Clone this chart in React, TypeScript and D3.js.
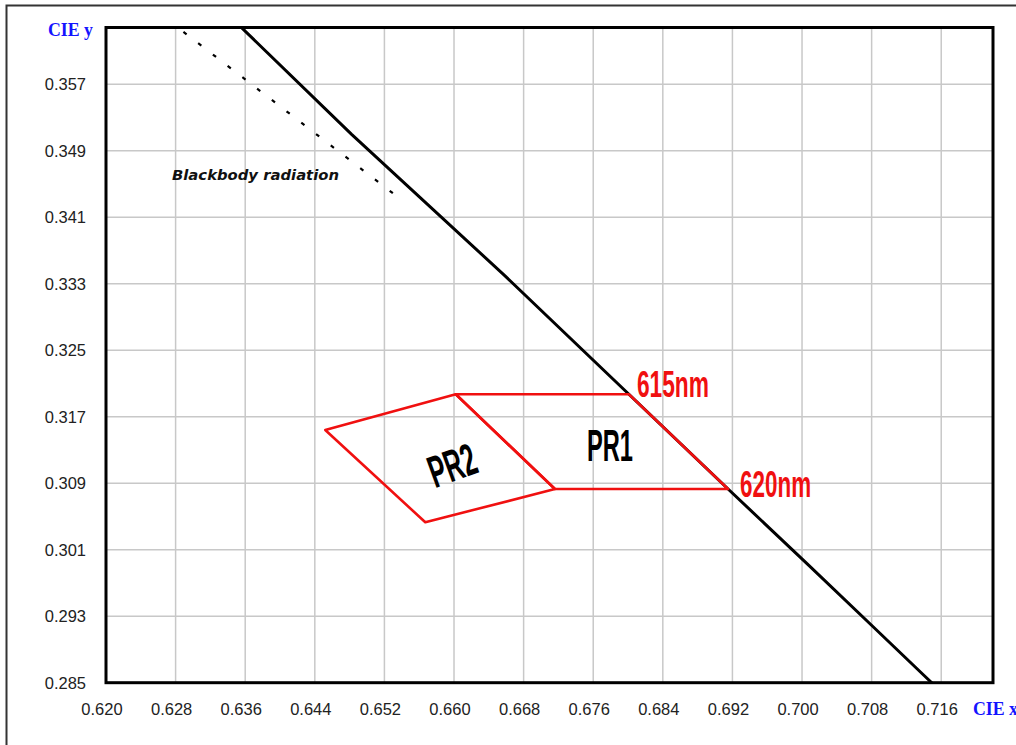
import React, { useEffect, useRef } from 'react'
import * as d3 from 'd3'

// tick values on both axes
const xTicks = [0.620, 0.628, 0.636, 0.644, 0.652, 0.660, 0.668, 0.676, 0.684, 0.692, 0.700, 0.708, 0.716]
const yTicks = [0.285, 0.293, 0.301, 0.309, 0.317, 0.325, 0.333, 0.341, 0.349, 0.357]

// CIE 1931 spectral locus, 600-640nm
const locusNm = [600, 605, 610, 615, 620, 625, 630, 635, 640]
const locusX = [0.6270, 0.6482, 0.6658, 0.6801, 0.6915, 0.7006, 0.7079, 0.7140, 0.7190]
const locusY = [0.3725, 0.3510, 0.3340, 0.3197, 0.3083, 0.2993, 0.2920, 0.2859, 0.2809]

// blackbody curve segment (dashed)
const blackbodyX = [0.6289, 0.6532]
const blackbodyY = [0.3633, 0.3437]

// PR1 / PR2 regions
const pr1X = [0.6602, 0.6801, 0.6915, 0.6716]
const pr1Y = [0.3197, 0.3197, 0.3083, 0.3083]
const pr2X = [0.6602, 0.6452, 0.6567, 0.6716]
const pr2Y = [0.3197, 0.3154, 0.3043, 0.3083]

const W = 1016
const H = 745

const App = () => {
    const svgRef = useRef<SVGSVGElement>(null)

    useEffect(() => {
        const svg = d3.select(svgRef.current)
        svg.selectAll('*').remove()

        const left = 106, right = 993, top = 27.5, bottom = 682.7
        const x = d3.scaleLinear().domain([0.620, 0.72195]).range([left, right])
        const y = d3.scaleLinear().domain([0.285, 0.36382]).range([bottom, top])

        svg.append('rect').attr('width', W).attr('height', H).attr('fill', '#fff')

        // outer frame (cut off at right/bottom)
        svg.append('rect')
            .attr('x', 6.5).attr('y', 5.5).attr('width', 1040).attr('height', 780)
            .attr('fill', 'none').attr('stroke', '#333').attr('stroke-width', 2)

        svg.append('defs').append('clipPath').attr('id', 'plot')
            .append('rect').attr('x', left).attr('y', top)
            .attr('width', right - left).attr('height', bottom - top)

        // grid
        const grid = svg.append('g').attr('stroke', '#c8c8c8').attr('stroke-width', 1.5)
        grid.selectAll('line.gx').data(xTicks.slice(1)).join('line')
            .attr('class', 'gx')
            .attr('x1', d => x(d)).attr('x2', d => x(d)).attr('y1', top).attr('y2', bottom)
        grid.selectAll('line.gy').data(yTicks.slice(1)).join('line')
            .attr('class', 'gy')
            .attr('x1', left).attr('x2', right).attr('y1', d => y(d)).attr('y2', d => y(d))

        const plot = svg.append('g').attr('clip-path', 'url(#plot)')

        // blackbody radiation (dashed)
        plot.append('path')
            .datum(blackbodyX.map((v, i) => [v, blackbodyY[i]]))
            .attr('d', d3.line().x(d => x(d[0])).y(d => y(d[1])))
            .attr('fill', 'none').attr('stroke', '#000').attr('stroke-width', 2.2)
            .attr('stroke-dasharray', '4 14.6')

        // spectral locus
        plot.append('path')
            .datum(locusNm.map((_, i) => [locusX[i], locusY[i]]))
            .attr('d', d3.line().x(d => x(d[0])).y(d => y(d[1])))
            .attr('fill', 'none').attr('stroke', '#000').attr('stroke-width', 3)

        // regions
        const poly = (xs: number[], ys: number[]) =>
            plot.append('path')
                .datum(xs.map((v, i) => [v, ys[i]]))
                .attr('d', d3.line().x(d => x(d[0])).y(d => y(d[1])).curve(d3.curveLinearClosed))
                .attr('fill', 'none').attr('stroke', '#f01010').attr('stroke-width', 2.6)
                .attr('stroke-linejoin', 'round')
        poly(pr2X, pr2Y)
        poly(pr1X, pr1Y)

        // plot border
        svg.append('rect')
            .attr('x', left).attr('y', top).attr('width', right - left).attr('height', bottom - top)
            .attr('fill', 'none').attr('stroke', '#000').attr('stroke-width', 3)

        // tick labels
        const lab = svg.append('g').attr('font-family', 'Liberation Sans, Arial, sans-serif')
            .attr('font-size', 16.5).attr('fill', '#222')
        lab.selectAll('text.yt').data(yTicks).join('text')
            .attr('class', 'yt')
            .attr('x', 86).attr('y', d => y(d) + 6.2).attr('text-anchor', 'end')
            .text(d => d3.format('.3f')(d))
        lab.selectAll('text.xt').data(xTicks).join('text')
            .attr('class', 'xt')
            .attr('x', d => x(d) - 4).attr('y', 715).attr('text-anchor', 'middle')
            .text(d => d3.format('.3f')(d))

        // axis titles
        const title = svg.append('g').attr('font-family', 'Liberation Serif, Times New Roman, serif')
            .attr('font-weight', 'bold').attr('font-size', 19).attr('fill', '#1414ff')
        title.append('text').attr('x', 48).attr('y', 36).attr('textLength', 45)
            .attr('lengthAdjust', 'spacingAndGlyphs').text('CIE y')
        title.append('text').attr('x', 973).attr('y', 715).attr('textLength', 45)
            .attr('lengthAdjust', 'spacingAndGlyphs').text('CIE x')

        // annotations
        svg.append('text')
            .attr('x', 172).attr('y', 179.5)
            .attr('font-family', 'DejaVu Sans, Verdana, sans-serif')
            .attr('font-weight', 'bold').attr('font-style', 'italic').attr('font-size', 14.5)
            .attr('textLength', 167).attr('lengthAdjust', 'spacingAndGlyphs')
            .attr('fill', '#111')
            .text('Blackbody radiation')

        const narrow = 'Liberation Sans Narrow, Arial Narrow, Liberation Sans, sans-serif'
        const i615 = locusNm.indexOf(615)
        const i620 = locusNm.indexOf(620)
        const red = svg.append('g').attr('font-family', narrow).attr('font-weight', 'bold')
            .attr('font-size', 37).attr('fill', '#f01010')
        red.append('text')
            .attr('x', x(locusX[i615]) + 8).attr('y', y(locusY[i615]) + 3)
            .attr('textLength', 72).attr('lengthAdjust', 'spacingAndGlyphs')
            .text('615nm')
        red.append('text')
            .attr('x', x(locusX[i620]) + 12).attr('y', y(locusY[i620]) + 8)
            .attr('textLength', 71).attr('lengthAdjust', 'spacingAndGlyphs')
            .text('620nm')

        const pr = svg.append('g').attr('font-family', narrow).attr('font-weight', 'bold')
            .attr('font-size', 45).attr('fill', '#000')
        pr.append('text')
            .attr('x', 587).attr('y', 461)
            .attr('textLength', 46).attr('lengthAdjust', 'spacingAndGlyphs')
            .text('PR1')
        pr.append('text')
            .attr('transform', 'translate(452,465) rotate(-20)')
            .attr('x', -24).attr('y', 16)
            .attr('textLength', 48).attr('lengthAdjust', 'spacingAndGlyphs')
            .text('PR2')
    }, [])

    return (
        <svg ref={svgRef} width={W} height={H}
            style={{ position: 'absolute', left: 0, top: 0, display: 'block' }} />
    )
}

export default App
